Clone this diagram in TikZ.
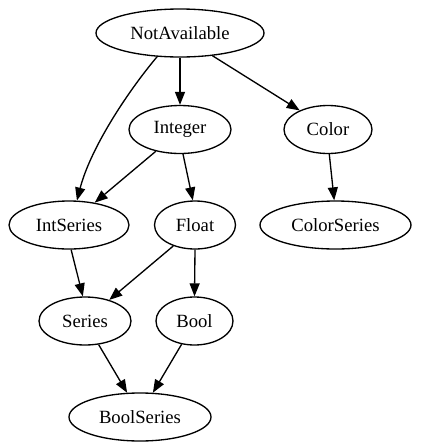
\documentclass[tikz,border=0pt]{standalone}
\usepackage{fontspec}
\setmainfont{Liberation Serif}
\usetikzlibrary{shapes.geometric,arrows.meta}

\tikzset{
    typenode/.style={ellipse, draw, line width=1.33pt, minimum height=48pt, inner sep=0pt,
        font=\fontsize{18.67}{22}\selectfont},
    dep/.style={line width=1.33pt, -{Triangle[length=13pt,width=10pt]}}
}

\begin{document}
\begin{tikzpicture}[x=1pt, y=-1pt]
    \useasboundingbox (0,0) rectangle (425,448);

    % Type nodes
    \node [typenode, minimum width=168pt] (notavail) at (180,33) {NotAvailable};
    \node [typenode, minimum width=102pt] (integer) at (180,129.5) {Integer};
    \node [typenode, minimum width=88pt] (color) at (328,129.5) {Color};
    \node [typenode, minimum width=120pt] (intseries) at (69,225) {IntSeries};
    \node [typenode, minimum width=81pt] (float) at (195,225) {Float};
    \node [typenode, minimum width=151pt] (colorseries) at (335.5,225) {ColorSeries};
    \node [typenode, minimum width=92pt] (series) at (85,321) {Series};
    \node [typenode, minimum width=77pt] (bool) at (194.5,321) {Bool};
    \node [typenode, minimum width=142pt] (boolseries) at (140,417) {BoolSeries};

    % Edges
    \draw [dep] (notavail.south) -- (integer.north);
    \draw [dep] (notavail.-35) -- (color.146);
    \draw [dep] (notavail.226) .. controls (125,95) and (90,150) .. (intseries.72);
    \draw [dep] (integer.222) -- (intseries.41);
    \draw [dep] (integer.-83) -- (float.95);
    \draw [dep] (color.-87) -- (colorseries.93);
    \draw [dep] (intseries.-85) -- (series.95);
    \draw [dep] (float.224) -- (series.41);
    \draw [dep] (float.south) -- (bool.north);
    \draw [dep] (series.-60) -- (boolseries.118);
    \draw [dep] (bool.241) -- (boolseries.62);
\end{tikzpicture}
\end{document}
